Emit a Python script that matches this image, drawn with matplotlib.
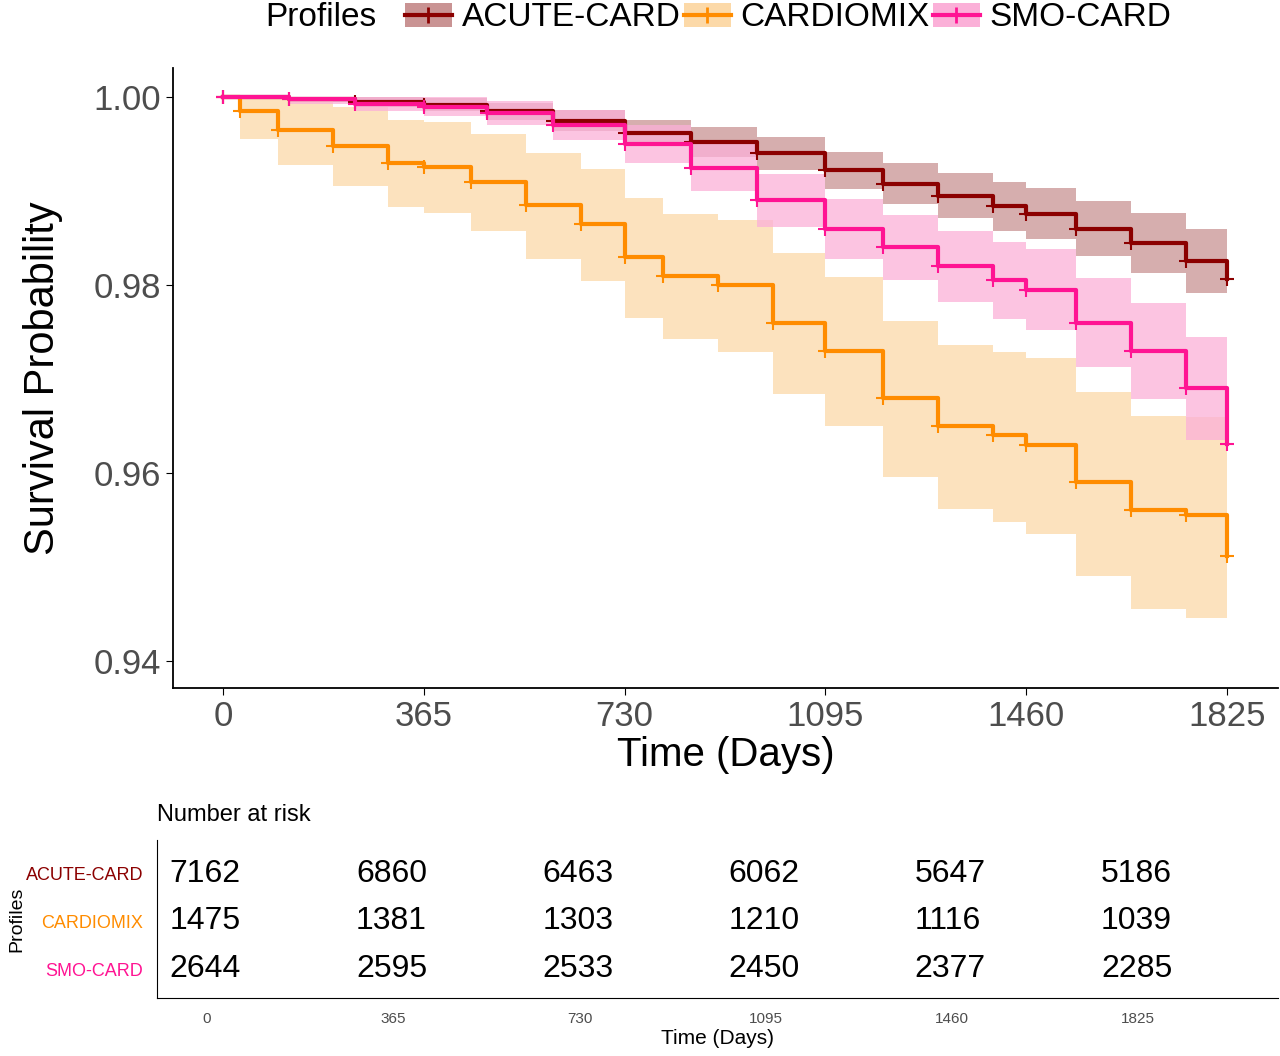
import matplotlib
matplotlib.use("Agg")
import matplotlib.pyplot as plt
import numpy as np

plt.rcParams['font.family'] = ['Liberation Sans', 'DejaVu Sans']

profiles = ["ACUTE-CARD", "CARDIOMIX", "SMO-CARD"]
colors = ["#8B0000", "#FF8C00", "#FF1493"]
fill_colors = ["#c99393", "#fcd9a8", "#fbb0d8"]

acute_t = [0, 120, 240, 365, 480, 600, 730, 850, 970, 1095, 1200, 1300, 1400, 1460, 1550, 1650, 1750, 1825]
acute_s = [1.0, 0.9998, 0.9995, 0.9992, 0.9985, 0.9975, 0.9962, 0.9952, 0.9940, 0.9922, 0.9908, 0.9895, 0.9884, 0.9876, 0.9860, 0.9845, 0.9826, 0.9806]
acute_lo = [1.0, 0.9995, 0.9990, 0.9985, 0.9976, 0.9964, 0.9948, 0.9936, 0.9922, 0.9902, 0.9886, 0.9871, 0.9858, 0.9849, 0.9831, 0.9813, 0.9792, 0.9770]
acute_hi = [1.0, 1.0, 1.0, 0.9999, 0.9994, 0.9986, 0.9976, 0.9968, 0.9958, 0.9942, 0.9930, 0.9919, 0.9910, 0.9903, 0.9889, 0.9877, 0.9860, 0.9842]

cardio_t = [0, 30, 100, 200, 300, 365, 450, 550, 650, 730, 800, 900, 1000, 1095, 1200, 1300, 1400, 1460, 1550, 1650, 1750, 1825]
cardio_s = [1.0, 0.9985, 0.9965, 0.9948, 0.9930, 0.9926, 0.9910, 0.9885, 0.9865, 0.9830, 0.9810, 0.9800, 0.9760, 0.9730, 0.9680, 0.9650, 0.9640, 0.9630, 0.9590, 0.9560, 0.9555, 0.9512]
cardio_lo = [1.0, 0.9955, 0.9928, 0.9905, 0.9883, 0.9877, 0.9857, 0.9828, 0.9804, 0.9765, 0.9742, 0.9729, 0.9684, 0.9650, 0.9596, 0.9562, 0.9548, 0.9535, 0.9490, 0.9455, 0.9446, 0.9390]
cardio_hi = [1.0, 1.0, 1.0, 0.9990, 0.9976, 0.9973, 0.9961, 0.9941, 0.9924, 0.9893, 0.9876, 0.9869, 0.9834, 0.9808, 0.9762, 0.9736, 0.9729, 0.9722, 0.9686, 0.9661, 0.9659, 0.9620]

smo_t = [0, 120, 240, 365, 480, 600, 730, 850, 970, 1095, 1200, 1300, 1400, 1460, 1550, 1650, 1750, 1825]
smo_s = [1.0, 0.9998, 0.9993, 0.9990, 0.9983, 0.9970, 0.9950, 0.9925, 0.9890, 0.9860, 0.9840, 0.9820, 0.9805, 0.9795, 0.9760, 0.9730, 0.9690, 0.9631]
smo_lo = [1.0, 0.9993, 0.9985, 0.9980, 0.9970, 0.9954, 0.9930, 0.9900, 0.9862, 0.9828, 0.9805, 0.9782, 0.9764, 0.9752, 0.9713, 0.9679, 0.9635, 0.9555]
smo_hi = [1.0, 1.0, 1.0, 1.0, 0.9996, 0.9986, 0.9970, 0.9950, 0.9918, 0.9892, 0.9875, 0.9858, 0.9846, 0.9838, 0.9807, 0.9781, 0.9745, 0.9705]

risk_times = [0, 365, 730, 1095, 1460, 1825]
risk_acute = [7162, 6860, 6463, 6062, 5647, 5186]
risk_cardio = [1475, 1381, 1303, 1210, 1116, 1039]
risk_smo = [2644, 2595, 2533, 2450, 2377, 2285]

curves = [(acute_t, acute_s, acute_lo, acute_hi),
          (cardio_t, cardio_s, cardio_lo, cardio_hi),
          (smo_t, smo_s, smo_lo, smo_hi)]
risks = [risk_acute, risk_cardio, risk_smo]

fig = plt.figure(figsize=(12.8, 10.56), dpi=100)
W, H = 1280, 1056
ax = fig.add_axes([173/W, 1-688/H, (1278-173)/W, (688-68)/H])

handles = []
for (t, s, lo, hi), c, fc, name in zip(curves, colors, fill_colors, profiles):
    ax.fill_between(t, lo, hi, step='post', color=fc, alpha=0.75, linewidth=0)
    ax.step(t, s, where='post', color=c, linewidth=3)
    ax.plot(t, s, linestyle='none', marker='+', color=c, markersize=10, mew=1.5)
    handles.append((name, c, fc))

ax.set_xlim(-91, 1918)
ax.set_ylim(0.9371, 1.0031)
ax.set_xticks(risk_times)
ax.set_yticks([0.94, 0.96, 0.98, 1.00])
ax.set_yticklabels(["0.94", "0.96", "0.98", "1.00"])
ax.tick_params(labelsize=25, colors="#4d4d4d", length=5)
ax.tick_params(axis='both', color='black')
for sp in ['top', 'right']:
    ax.spines[sp].set_visible(False)
for sp in ['left', 'bottom']:
    ax.spines[sp].set_linewidth(1.3)
ax.set_xlabel("Time (Days)", fontsize=29, labelpad=2)
ax.set_ylabel("Survival Probability", fontsize=30, labelpad=22)

from matplotlib.patches import Patch
from matplotlib.lines import Line2D
from matplotlib.legend_handler import HandlerTuple
lh = [(Patch(facecolor=fc, edgecolor='none'), Line2D([], [], color=c, lw=3, marker='+', markersize=12, mew=2))
      for name, c, fc in handles]
fig.text(265/W, 1-18/H, "Profiles", fontsize=24, va='center', ha='left')
fig.legend(lh, profiles, handler_map={tuple: HandlerTuple(ndivide=1)}, ncol=3, frameon=False,
           fontsize=24, loc='center left', bbox_to_anchor=(375/W, 1-18/H),
           handlelength=1.4, handletextpad=0.3, columnspacing=0.1)

tx = fig.add_axes([157/W, 1-998/H, (1278-157)/W, (998-840)/H])
tx.set_xlim(-98, 2099)
tx.set_ylim(2.6, -0.7)
for i, r in enumerate(risks):
    for t, v in zip(risk_times, r):
        tx.text(t - 73, i, str(v), fontsize=23, va='center', ha='left')
tx.set_yticks([0, 1, 2])
tx.set_yticklabels(profiles, fontsize=13)
for lbl, c in zip(tx.get_yticklabels(), colors):
    lbl.set_color(c)
tx.tick_params(axis='y', length=0, pad=10)
tx.set_xticks(risk_times)
tx.tick_params(axis='x', labelsize=11, colors='#4d4d4d', length=0, pad=10)
for sp in ['top', 'right']:
    tx.spines[sp].set_visible(False)
tx.set_xlabel("Time (Days)", fontsize=15, labelpad=2)
tx.set_ylabel("Profiles", fontsize=14, labelpad=0)
fig.text(157/W, 1-815/H, "Number at risk", fontsize=17, va='center', ha='left')

fig.savefig("out.png", dpi=100)
